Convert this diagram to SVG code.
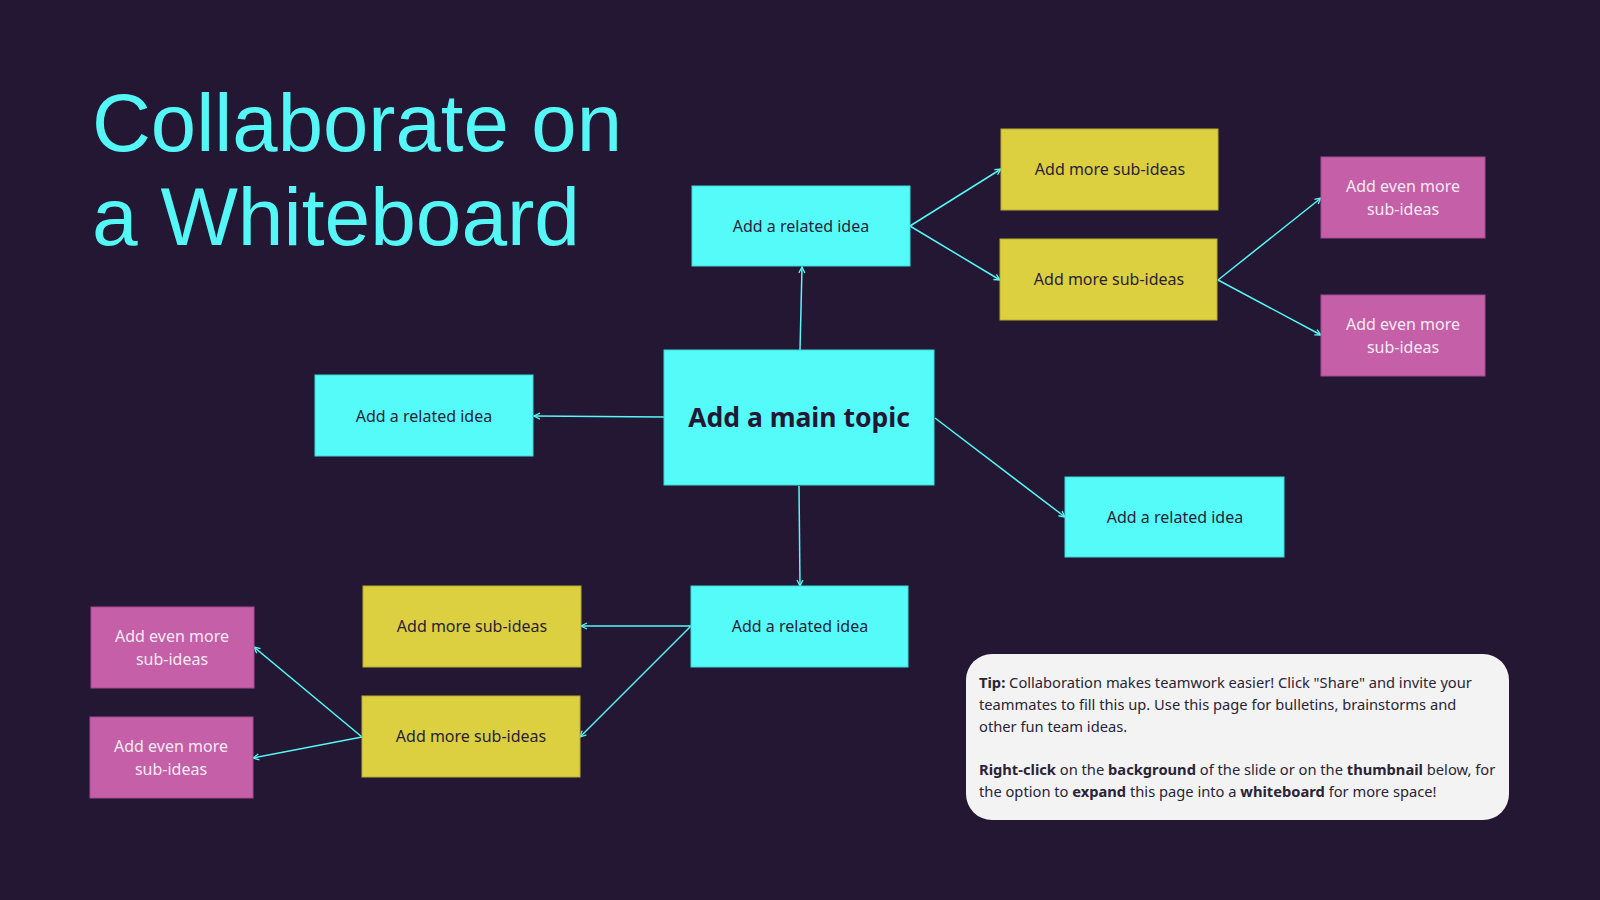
<svg xmlns="http://www.w3.org/2000/svg" width="1600" height="900" viewBox="0 0 1600 900">
<defs>
<marker id="arr" viewBox="0 0 8 8" refX="7" refY="4" markerWidth="8" markerHeight="8" markerUnits="userSpaceOnUse" orient="auto">
<path d="M1,1 L7,4 L1,7" fill="none" stroke="#55f8f6" stroke-width="1.3"/>
</marker>
<style>
.cy{fill:#55fbf8;stroke:#3fd9d6;stroke-width:1}
.ye{fill:#dccf40;stroke:#b9ad2e;stroke-width:1}
.pk{fill:#c45fa8;stroke:#a84d90;stroke-width:1}
.t{font-family:"Noto Sans","Liberation Sans",sans-serif;font-size:16px;fill:#2a1f38;text-anchor:middle}
.tp{font-family:"Noto Sans","Liberation Sans",sans-serif;font-size:16px;fill:#f6eaf3;text-anchor:middle}
.main{font-family:"Noto Sans","Liberation Sans",sans-serif;font-size:26.5px;font-weight:bold;fill:#231733;text-anchor:middle}
.tip{font-family:"Noto Sans","Liberation Sans",sans-serif;font-size:14.7px;fill:#2a2436}
.b{font-weight:bold}
.conn line{stroke:#55f8f6;stroke-width:1.5;marker-end:url(#arr)}
.title{font-family:"Liberation Sans",Arial,sans-serif;font-size:82px;fill:#55f6f6}
</style>
</defs>
<rect width="1600" height="900" fill="#231733"/>
<g id="title">
<text class="title" x="92" y="151" textLength="530" lengthAdjust="spacingAndGlyphs">Collaborate on</text>
<text class="title" x="92" y="245" textLength="488" lengthAdjust="spacingAndGlyphs">a Whiteboard</text>
</g>
<g id="connectors" class="conn">
<line x1="800" y1="350" x2="802" y2="267"/>
<line x1="664" y1="417" x2="534" y2="416"/>
<line x1="935" y1="418" x2="1065" y2="517"/>
<line x1="799" y1="486" x2="800" y2="586"/>
<line x1="910" y1="226" x2="1001" y2="169"/>
<line x1="910" y1="226" x2="1000" y2="280"/>
<line x1="1218" y1="280" x2="1321" y2="198"/>
<line x1="1218" y1="280" x2="1321" y2="335"/>
<line x1="691" y1="626" x2="581" y2="626"/>
<line x1="691" y1="626" x2="580" y2="737"/>
<line x1="362" y1="737" x2="254" y2="647"/>
<line x1="362" y1="737" x2="253" y2="758"/>
</g>
<g id="main-topic"><rect class="cy" x="664" y="350" width="270" height="135"/><text class="main" x="799" y="427">Add a main topic</text></g>
<g id="related-top"><rect class="cy" x="692" y="186" width="218" height="80"/><text class="t" x="801" y="232">Add a related idea</text></g>
<g id="related-left"><rect class="cy" x="315" y="375" width="218" height="81"/><text class="t" x="424" y="422">Add a related idea</text></g>
<g id="related-right"><rect class="cy" x="1065" y="477" width="219" height="80"/><text class="t" x="1175" y="523">Add a related idea</text></g>
<g id="related-bottom"><rect class="cy" x="691" y="586" width="217" height="81"/><text class="t" x="800" y="632">Add a related idea</text></g>
<g id="sub-tr1"><rect class="ye" x="1001" y="129" width="217" height="81"/><text class="t" x="1110" y="175">Add more sub-ideas</text></g>
<g id="sub-tr2"><rect class="ye" x="1000" y="239" width="217" height="81"/><text class="t" x="1109" y="285">Add more sub-ideas</text></g>
<g id="even-tr1"><rect class="pk" x="1321" y="157" width="164" height="81"/><text class="tp" x="1403" y="192">Add even more</text><text class="tp" x="1403" y="215">sub-ideas</text></g>
<g id="even-tr2"><rect class="pk" x="1321" y="295" width="164" height="81"/><text class="tp" x="1403" y="330">Add even more</text><text class="tp" x="1403" y="353">sub-ideas</text></g>
<g id="sub-b1"><rect class="ye" x="363" y="586" width="218" height="81"/><text class="t" x="472" y="632">Add more sub-ideas</text></g>
<g id="sub-b2"><rect class="ye" x="362" y="696" width="218" height="81"/><text class="t" x="471" y="742">Add more sub-ideas</text></g>
<g id="even-l1"><rect class="pk" x="91" y="607" width="163" height="81"/><text class="tp" x="172" y="642">Add even more</text><text class="tp" x="172" y="665">sub-ideas</text></g>
<g id="even-l2"><rect class="pk" x="90" y="717" width="163" height="81"/><text class="tp" x="171" y="752">Add even more</text><text class="tp" x="171" y="775">sub-ideas</text></g>
<g id="tip">
<rect x="966" y="654" width="543" height="166" rx="26" fill="#f3f3f4"/>
<text class="tip" x="979" y="688"><tspan class="b">Tip:</tspan> Collaboration makes teamwork easier! Click "Share" and invite your</text>
<text class="tip" x="979" y="710">teammates to fill this up. Use this page for bulletins, brainstorms and</text>
<text class="tip" x="979" y="732">other fun team ideas.</text>
<text class="tip" x="979" y="775"><tspan class="b">Right-click</tspan> on the <tspan class="b">background</tspan> of the slide or on the <tspan class="b">thumbnail</tspan> below, for</text>
<text class="tip" x="979" y="797">the option to <tspan class="b">expand</tspan> this page into a <tspan class="b">whiteboard</tspan> for more space!</text>
</g>
</svg>
